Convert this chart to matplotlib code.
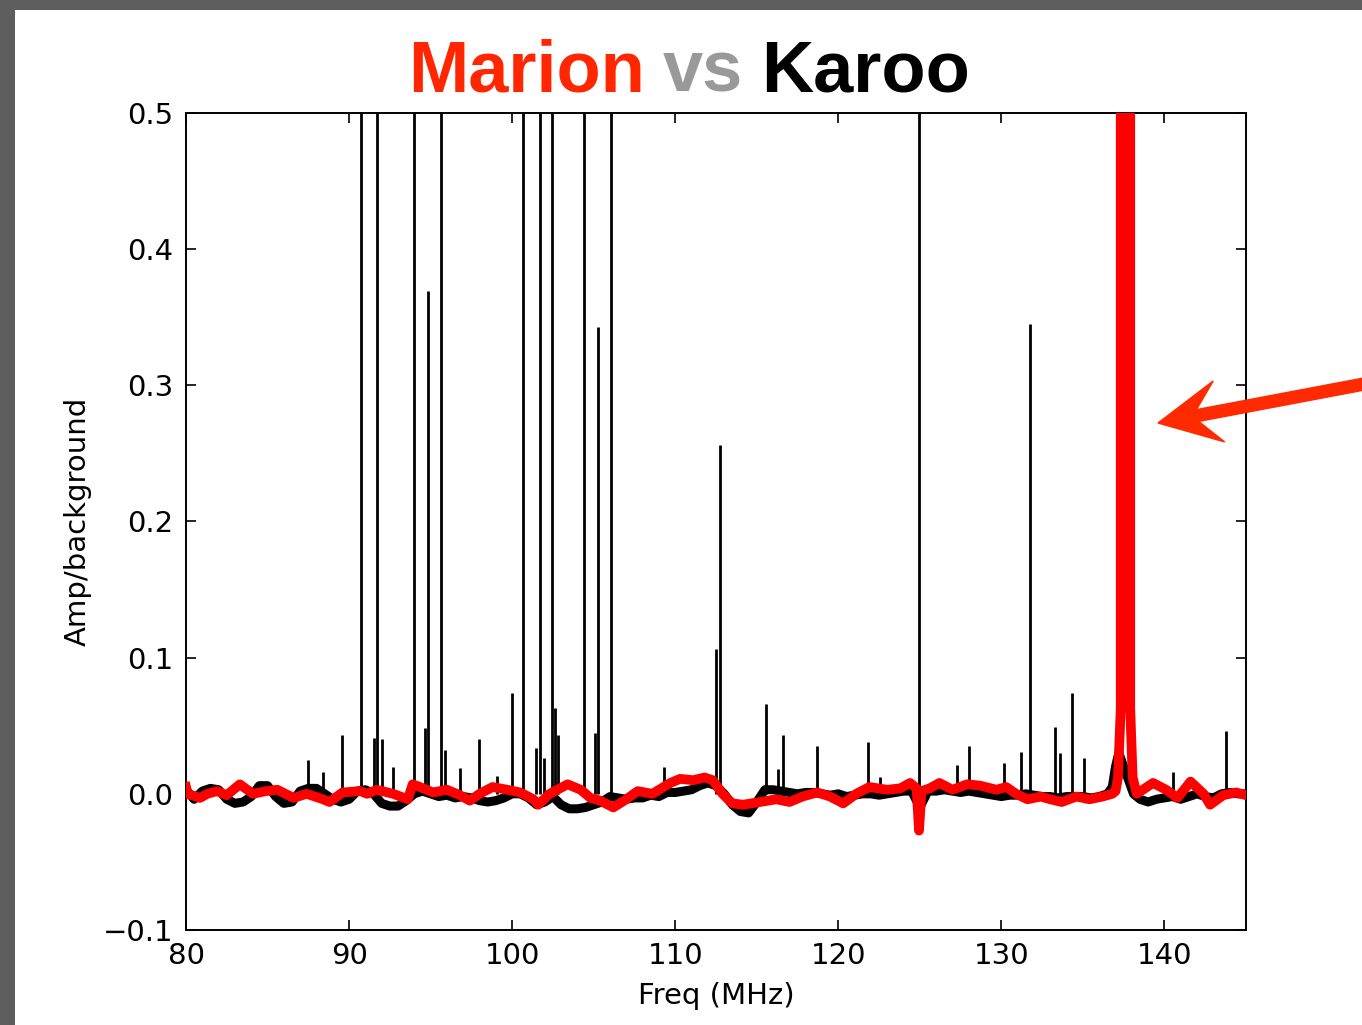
import numpy as np
from matplotlib import pyplot as plt
from matplotlib.patches import Rectangle, FancyArrow
from matplotlib.transforms import IdentityTransform

# Karoo spectrum: smooth baseline (MHz, amp/background)
karoo_base_freq = [80.0, 80.5, 81.0, 81.5, 82.0, 82.5, 83.0, 83.5, 84.0, 84.5, 85.0, 85.5,
                   86.0, 86.5, 87.0, 87.5, 88.0, 88.5, 89.0, 89.5, 90.0, 90.5, 91.0, 91.5,
                   92.0, 92.5, 93.0, 93.5, 94.0, 94.5, 95.0, 95.5, 96.0, 96.5, 97.0, 97.5,
                   98.0, 98.5, 99.0, 99.5, 100.0, 100.5, 101.0, 101.5, 102.0, 102.5, 103.0, 103.5,
                   104.0, 104.5, 105.0, 105.5, 106.0, 106.5, 107.0, 107.5, 108.0, 108.5, 109.0, 109.5,
                   110.0, 110.5, 111.0, 111.5, 112.0, 112.5, 113.0, 113.5, 114.0, 114.5, 115.0, 115.5,
                   116.0, 116.5, 117.0, 117.5, 118.0, 118.5, 119.0, 119.5, 120.0, 120.5, 121.0, 121.5,
                   122.0, 122.5, 123.0, 123.5, 124.0, 124.5, 125.0, 125.5, 126.0, 126.5, 127.0, 127.5,
                   128.0, 128.5, 129.0, 129.5, 130.0, 130.5, 131.0, 131.5, 132.0, 132.5, 133.0, 133.5,
                   134.0, 134.5, 135.0, 135.5, 136.0, 136.5, 136.8, 137.0, 137.2, 138.1, 138.5, 139.0,
                   139.5, 140.0, 140.5, 141.0, 141.5, 142.0, 142.5, 143.0, 143.5, 144.0, 144.5, 145.0]
karoo_base_amp = [0.003, -0.004, 0.002, 0.004, 0.003, -0.004, -0.007, -0.006, -0.002, 0.006, 0.006, -0.002,
                  -0.007, -0.006, 0.002, 0.004, 0.004, 0.0, -0.004, -0.006, -0.004, 0.002, 0.003, 0.0,
                  -0.007, -0.009, -0.009, -0.005, 0.0, 0.002, 0.0, -0.002, -0.001, -0.003, -0.002, -0.003,
                  -0.005, -0.006, -0.005, -0.003, 0.0, 0.0, -0.003, -0.008, -0.006, -0.002, -0.008, -0.011,
                  -0.011, -0.010, -0.008, -0.006, -0.002, -0.003, -0.004, -0.003, -0.003, -0.001, -0.002, 0.001,
                  0.001, 0.002, 0.003, 0.006, 0.008, 0.006, 0.0, -0.008, -0.013, -0.014, -0.006, 0.003,
                  0.003, 0.002, 0.001, 0.0, 0.001, 0.001, 0.0, -0.001, 0.0, -0.002, -0.001, 0.0,
                  0.0, -0.001, 0.0, 0.001, 0.002, 0.002, -0.010, 0.002, 0.002, 0.003, 0.002, 0.001,
                  0.002, 0.001, 0.0, -0.001, -0.002, -0.001, -0.001, 0.0, -0.001, -0.002, -0.002, -0.003,
                  -0.002, -0.002, -0.002, -0.003, -0.002, 0.0, 0.005, 0.020, 0.030, 0.0, -0.004, -0.006,
                  -0.004, -0.003, -0.002, -0.004, -0.002, 0.0, -0.002, -0.003, 0.0, 0.001, 0.0, 0.0]

# Karoo narrow RFI lines (MHz, peak); 1.0 = off the top of the plot
karoo_spike_freq = [87.48, 88.4, 89.56, 90.73, 91.5, 91.71, 92.0, 92.7, 93.98, 94.65, 94.84, 95.63,
                    95.9, 96.8, 97.96, 99.1, 100.0, 100.66, 101.46, 101.7, 101.95, 102.44, 102.62, 102.8,
                    104.4, 105.1, 105.26, 106.06, 109.3, 112.5, 112.74, 115.56, 116.3, 116.6, 118.7, 121.8,
                    122.55, 124.94, 127.3, 128.0, 130.15, 131.2, 131.75, 133.28, 133.6, 134.3, 135.06, 140.5,
                    143.8]
karoo_spike_amp = [0.025, 0.016, 0.043, 1.0, 0.041, 1.0, 0.040, 0.020, 1.0, 0.048, 0.369, 1.0,
                   0.032, 0.019, 0.040, 0.013, 0.074, 1.0, 0.034, 1.0, 0.026, 1.0, 0.063, 0.043,
                   1.0, 0.045, 0.343, 1.0, 0.020, 0.106, 0.256, 0.066, 0.018, 0.043, 0.035, 0.038,
                   0.012, 1.0, 0.021, 0.035, 0.023, 0.031, 0.345, 0.049, 0.030, 0.074, 0.026, 0.016,
                   0.046]

# Marion spectrum (MHz, amp/background)
marion_freq = [80.0, 80.1, 80.86, 81.3, 81.9, 82.5, 83.3, 84.1, 84.9, 85.6, 86.6, 87.4,
               88.4, 88.8, 89.6, 90.7, 91.1, 91.7, 92.7, 93.6, 93.9, 94.35, 95.15, 96.0,
               96.8, 97.4, 98.0, 98.8, 99.7, 100.5, 101.3, 101.6, 102.3, 103.4, 104.2, 104.8,
               105.4, 106.2, 107.0, 107.7, 108.6, 109.7, 110.3, 111.1, 111.8, 112.3, 112.9, 113.5,
               114.15, 115.2, 116.2, 117.0, 117.8, 118.7, 119.5, 120.3, 121.1, 121.9, 123.0, 123.8,
               124.4, 124.8, 124.95, 125.1, 125.6, 126.2, 127.0, 127.9, 128.7, 129.7, 130.3, 130.9,
               131.6, 132.4, 133.0, 133.7, 134.6, 135.4, 136.2, 136.8, 137.0, 137.15, 137.32, 137.32,
               137.9, 137.9, 138.05, 138.3, 139.3, 140.1, 140.8, 141.6, 142.4, 142.8, 143.6, 144.4,
               145.0]
marion_amp = [0.005, 0.0, -0.003, 0.0, 0.002, -0.001, 0.007, 0.0, 0.002, 0.003, -0.003, 0.0,
              -0.004, -0.006, 0.001, 0.002, 0.0, 0.003, 0.0, -0.004, 0.007, 0.005, 0.001, 0.003,
              -0.001, -0.005, 0.0, 0.005, 0.003, 0.001, -0.004, -0.008, 0.0, 0.007, 0.003, -0.003,
              -0.005, -0.010, -0.004, 0.002, 0.0, 0.008, 0.011, 0.010, 0.012, 0.010, 0.0, -0.007,
              -0.008, -0.006, -0.004, -0.006, -0.002, 0.001, -0.002, -0.007, 0.0, 0.005, 0.003, 0.004,
              0.008, 0.004, -0.027, 0.002, 0.004, 0.008, 0.003, 0.007, 0.006, 0.003, 0.005, 0.0,
              -0.004, -0.002, -0.004, -0.006, -0.002, -0.004, -0.002, 0.0, 0.002, 0.012, 0.063, 0.8,
              0.8, 0.063, 0.012, 0.0, 0.008, 0.003, -0.003, 0.009, 0.0, -0.008, -0.001, 0.001,
              -0.001]

W, H = 1362, 1025
fig = plt.figure(figsize=(W / 100, H / 100), dpi=100)
fig.patch.set_facecolor('#5e5e5e')
# white slide area
fig.add_artist(Rectangle((15, 0), W - 15, H - 10, transform=IdentityTransform(),
                         facecolor='white', edgecolor='none', zorder=-10))

ax = fig.add_axes([186 / W, (H - 930) / H, (1246 - 186) / W, (930 - 113) / H])

ax.vlines(karoo_spike_freq, 0, karoo_spike_amp, color='black', lw=2, zorder=2)
ax.plot(karoo_base_freq, karoo_base_amp, color='black', lw=6.5, zorder=2)
ax.plot(marion_freq, marion_amp, color='#ff0000', lw=7, zorder=3, solid_joinstyle='round')

ax.set_xlim(80, 145)
ax.set_ylim(-0.1, 0.5)
ax.set_xticks([80, 90, 100, 110, 120, 130, 140])
ax.set_yticks([-0.1, 0.0, 0.1, 0.2, 0.3, 0.4, 0.5])
ax.tick_params(direction='in', top=True, right=True, length=7, width=1.2,
               labelsize=21, pad=9, colors='black')
for s in ax.spines.values():
    s.set_linewidth(1.4)
ax.set_xlabel('Freq (MHz)', fontsize=21, labelpad=8)
ax.set_ylabel('Amp/background', fontsize=21, labelpad=8)

# title, three colours
tfont = dict(family='Liberation Sans', weight='bold', fontsize=52)
t1 = fig.text(408 / W, (H - 92) / H, 'Marion', color='#ff2600', ha='left', va='baseline', **tfont)
t2 = ax.annotate('vs', xy=(1, 0), xycoords=t1, xytext=(18, 0), textcoords='offset pixels',
                 color='#999999', ha='left', va='bottom', annotation_clip=False, **tfont)
t3 = ax.annotate('Karoo', xy=(1, 0), xycoords=t2, xytext=(18, 0), textcoords='offset pixels',
                 color='black', ha='left', va='bottom', annotation_clip=False, **tfont)

# pointer arrow at the Marion line
fig.add_artist(FancyArrow(1380, H - 381, -222, -42, width=12, head_width=62, head_length=62,
                          overhang=0.35, length_includes_head=True, transform=IdentityTransform(),
                          color='#ff2a00', zorder=5))

fig.savefig('out.png', dpi=100, facecolor=fig.get_facecolor())
